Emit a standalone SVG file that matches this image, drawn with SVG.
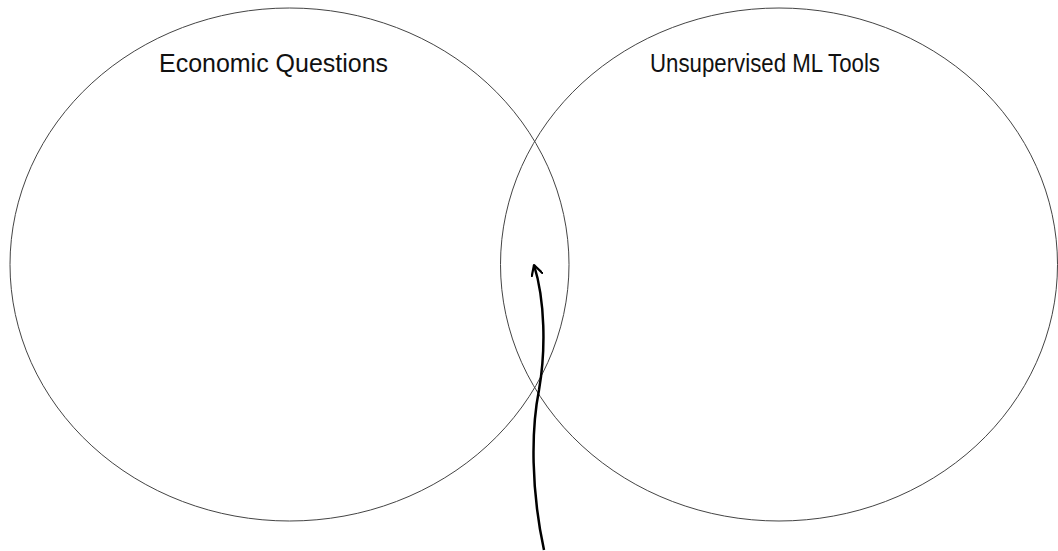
<svg xmlns="http://www.w3.org/2000/svg" width="1058" height="551" viewBox="0 0 1058 551">
<style>
.set{fill:none;stroke:#444;stroke-width:1}
.lbl{font-family:"Liberation Sans",Arial,sans-serif;font-size:25.5px;fill:#111;text-anchor:middle}
.conn{fill:none;stroke:#000;stroke-width:2.5}
</style>
<defs>
<marker id="arr" viewBox="0 0 12 12" refX="11" refY="6" markerWidth="12" markerHeight="12" markerUnits="userSpaceOnUse" orient="auto">
<path d="M1,0.5 L11,6 L1,11.5" fill="none" stroke="#000" stroke-width="2.2" stroke-linecap="round" stroke-linejoin="round"/>
</marker>
</defs>
<rect width="1058" height="551" fill="#fff"/>
<g id="economic-questions">
<ellipse class="set" cx="289.5" cy="264.5" rx="279.5" ry="256.5"/>
<text class="lbl" x="273.5" y="72" textLength="229" lengthAdjust="spacingAndGlyphs">Economic Questions</text>
</g>
<g id="unsupervised-ml-tools">
<ellipse class="set" cx="779" cy="264.5" rx="278.5" ry="256.5"/>
<text class="lbl" x="765" y="72" textLength="230" lengthAdjust="spacingAndGlyphs">Unsupervised ML Tools</text>
</g>
<g id="connectors">
<path class="conn" d="M544,550 C531,490 531,430 539,390 C546,350 545,300 534,265" marker-end="url(#arr)"/>
</g>
</svg>
